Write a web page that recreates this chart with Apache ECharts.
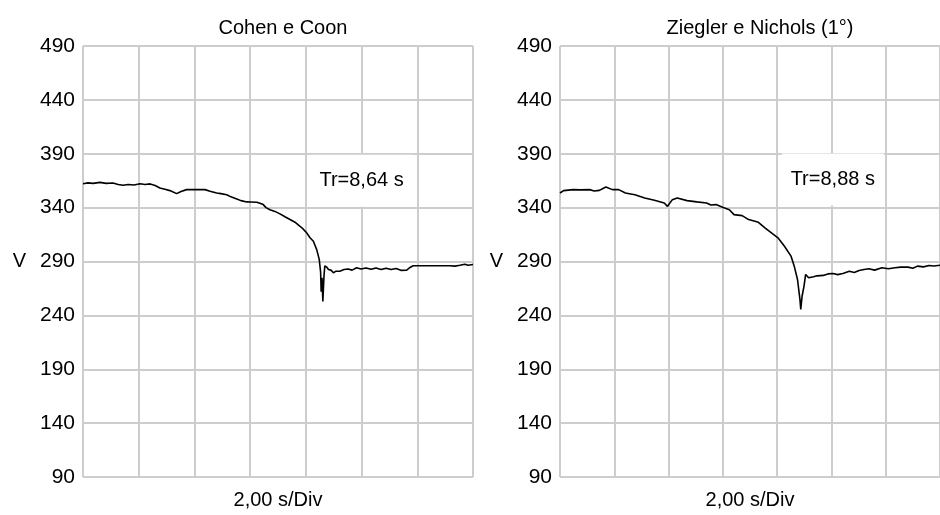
<!DOCTYPE html>
<html>
<head>
<meta charset="utf-8">
<script src="https://cdn.jsdelivr.net/npm/echarts@6/dist/echarts.min.js"></script>
<style>
html,body{margin:0;padding:0;background:#fff;}
#chart{width:940px;height:515px;}
</style>
</head>
<body>
<div id="chart"></div>
<script>
// ---- data ----
const titles = ['Cohen e Coon', 'Ziegler e Nichols (1°)'];
const annotations = ['Tr=8,64 s', 'Tr=8,88 s'];
const xAxisName = '2,00 s/Div';
const yAxisName = 'V';
const yMin = 90, yMax = 490, yStep = 50;
const xMin = 0, xMax = 14, xStep = 2;
const annotationPos = [[10.0, 365], [10.05, 366]];

const times1 = [0.00,0.18,0.36,0.61,0.83,1.08,1.26,1.44,1.62,1.83,2.05,2.23,2.41,2.59,2.76,2.94,3.12,3.36,3.52,3.72,4.02,4.38,4.56,4.80,4.95,5.16,5.31,5.52,5.67,5.88,6.03,6.24,6.35,6.47,6.57,6.71,6.89,7.07,7.25,7.43,7.61,7.79,7.91,8.03,8.15,8.27,8.39,8.48,8.53,8.55,8.58,8.61,8.65,8.68,8.76,8.81,8.90,8.99,9.08,9.22,9.37,9.51,9.66,9.82,9.98,10.16,10.34,10.52,10.70,10.88,11.06,11.24,11.41,11.62,11.74,11.85,12.09,12.45,12.81,13.17,13.35,13.53,13.71,13.82,14.00];
const volts1 = [362.2,363.0,362.5,363.4,362.5,362.9,361.5,360.7,361.5,361.0,362.2,361.5,362.0,360.5,358.2,357.0,355.8,353.0,355.0,356.7,356.8,356.7,355.2,353.6,353.0,352.0,350.0,348.0,346.5,345.3,345.2,345.0,344.0,342.8,340.0,338.0,336.5,334.2,331.5,329.0,326.5,322.7,320.0,316.6,312.0,308.8,301.0,292.0,280.0,262.0,275.0,253.0,276.0,286.0,284.5,282.6,282.0,279.5,281.0,281.0,282.5,283.0,282.0,284.2,283.0,284.0,282.8,284.0,282.5,283.8,282.5,283.5,281.8,282.0,284.5,286.0,286.0,286.0,286.0,286.0,285.7,286.5,287.5,286.5,287.2];

const times2 = [0.00,0.13,0.49,0.75,1.09,1.26,1.45,1.69,1.93,2.16,2.41,2.76,3.12,3.48,3.84,3.96,4.14,4.32,4.68,5.04,5.40,5.56,5.75,5.99,6.24,6.41,6.71,6.95,7.31,7.55,7.79,8.03,8.27,8.51,8.63,8.75,8.84,8.87,8.92,8.99,9.05,9.16,9.34,9.47,9.70,9.87,10.06,10.23,10.42,10.66,10.84,11.02,11.20,11.38,11.59,11.86,12.10,12.34,12.56,12.82,13.00,13.17,13.39,13.60,13.78,14.00];
const volts2 = [353.6,355.8,356.7,356.5,356.7,355.5,356.0,359.2,356.7,356.7,353.6,352.0,349.0,346.8,344.3,341.2,347.4,349.0,346.5,345.3,344.3,342.5,342.8,340.3,338.1,333.5,332.6,328.9,326.4,321.2,316.6,312.0,304.2,295.0,285.7,273.3,254.8,245.6,258.0,267.2,278.0,274.9,275.8,276.7,277.1,278.5,278.9,277.8,278.9,281.0,279.8,281.6,282.5,283.2,282.0,284.2,283.3,284.2,284.8,284.8,283.8,285.7,285.0,286.3,285.8,286.5];

// ---- chart ----
const FONT = 'Liberation Sans';
const gridColor = '#cdcdcd';
const textColor = '#000';

function pairs(t, v) { return t.map((x, i) => [x, v[i] - yMin]); }

const panels = [{left: 83}, {left: 560}];
const grids = panels.map(p => ({left: p.left, top: 46, width: 390, height: 432, containLabel: false}));

const xAxes = panels.map((p, i) => ({
  type: 'value', gridIndex: i, min: xMin, max: xMax, interval: xStep,
  axisLine: {show: false}, axisTick: {show: false}, axisLabel: {show: false},
  splitLine: {show: true, showMinLine: true, showMaxLine: true, lineStyle: {color: gridColor, width: 2}},
  name: xAxisName, nameLocation: 'middle', nameGap: 13,
  nameTextStyle: {fontFamily: FONT, fontSize: 20, color: textColor}
}));

const yAxes = panels.map((p, i) => ({
  type: 'value', gridIndex: i, min: 0, max: yMax - yMin, interval: yStep,
  axisLine: {show: false}, axisTick: {show: false},
  axisLabel: {show: true, margin: 8, fontFamily: FONT, fontSize: 21, color: textColor,
    formatter: v => String(v + yMin)},
  splitLine: {show: true, showMinLine: true, showMaxLine: true, lineStyle: {color: gridColor, width: 2}},
  name: yAxisName, nameLocation: 'middle', nameRotate: 0, nameGap: 57,
  nameTextStyle: {fontFamily: FONT, fontSize: 20, color: textColor}
}));

const datasets = [pairs(times1, volts1), pairs(times2, volts2)];

const series = datasets.map((d, i) => ({
  type: 'line', xAxisIndex: i, yAxisIndex: i, data: d,
  showSymbol: false, symbol: 'none', animation: false,
  lineStyle: {color: '#000', width: 1.6}, z: 3,
  markPoint: {
    symbol: 'rect', symbolSize: 0, animation: false,
    label: {show: true, position: 'inside', formatter: annotations[i],
      fontFamily: FONT, fontSize: 20, color: textColor,
      backgroundColor: '#fff', padding: [16, 9, 16, 9]},
    data: [{coord: [annotationPos[i][0], annotationPos[i][1] - yMin]}]
  }
}));

const chart = echarts.init(document.getElementById('chart'), null, {renderer: 'canvas'});
chart.setOption({
  backgroundColor: '#fff',
  animation: false,
  title: titles.map((t, i) => ({
    text: t, left: panels[i].left + 195, top: 13, textAlign: 'center',
    textStyle: {fontFamily: FONT, fontSize: 20, fontWeight: 'normal', color: textColor}
  })),
  grid: grids,
  xAxis: xAxes,
  yAxis: yAxes,
  series: series
});
</script>
</body>
</html>
